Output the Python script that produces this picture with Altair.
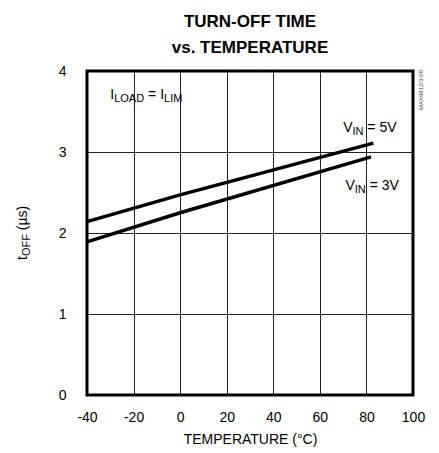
import altair as alt
import pandas as pd

# ---- data ----
temp_5v = [-40, 0, 83]
toff_5v = [2.14, 2.47, 3.11]
temp_3v = [-40, 0, 82]
toff_3v = [1.89, 2.25, 2.94]
x_ticks = [-40, -20, 0, 20, 40, 60, 80, 100]
y_ticks = [0, 1, 2, 3, 4]
title_lines = ["TURN-OFF TIME", "vs. TEMPERATURE"]
x_title = "TEMPERATURE (°C)"
watermark = "MAX9812/3-08"

df = pd.concat([
    pd.DataFrame({"temp": temp_5v, "toff": toff_5v, "series": "VIN = 5V"}),
    pd.DataFrame({"temp": temp_3v, "toff": toff_3v, "series": "VIN = 3V"}),
])

FONT = "Liberation Sans"
W, H = 326, 324
MAIN = 14
SUB = 11

xs = alt.Scale(domain=[-40, 100], nice=False, zero=False)
ys = alt.Scale(domain=[0, 4], nice=False)

lines = alt.Chart(df).mark_line(color="black", strokeWidth=3.5, strokeCap="butt").encode(
    x=alt.X("temp:Q", scale=xs, axis=alt.Axis(
        values=x_ticks, title=x_title, grid=True, gridColor="#222222", gridOpacity=1, gridWidth=1,
        domain=False, ticks=False, tickSize=0,
        labelPadding=26, labelBaseline="alphabetic", labelFontSize=MAIN, labelFont=FONT,
        labelColor="black", labelFlush=False, labelOverlap=False,
        labelExpr="'' + datum.value",
        titleFont=FONT, titleFontSize=MAIN, titleFontWeight="normal", titleColor="black",
        titleY=48, titleBaseline="alphabetic")),
    y=alt.Y("toff:Q", scale=ys, axis=alt.Axis(
        values=y_ticks, title=None, grid=True, gridColor="#222222", gridOpacity=1, gridWidth=1,
        domain=False, ticks=False, tickSize=0,
        labelPadding=21, labelFontSize=MAIN, labelFont=FONT, labelColor="black",
        labelFlush=False, labelOverlap=False, labelExpr="'' + datum.value")),
    detail="series:N",
)

one = pd.DataFrame({"a": [0]})

frame = alt.Chart(one).mark_rect(fill=None, stroke="black", strokeWidth=3).encode(
    x=alt.value(0), x2=alt.value(W), y=alt.value(0), y2=alt.value(H)
)


def piece_data(txt, xv, yv, size, dx=0, dy=0, angle=0, color="black"):
    d = pd.DataFrame({"x": [xv], "y": [yv]})
    return alt.Chart(d).mark_text(
        text=txt, font=FONT, fontSize=size, align="left", baseline="alphabetic",
        dx=dx, dy=dy, angle=angle, color=color,
    ).encode(x=alt.X("x:Q", scale=xs), y=alt.Y("y:Q", scale=ys))


def piece_px(txt, px, py, size, dx=0, dy=0, angle=0, color="black", align="left", weight="normal"):
    return alt.Chart(one).mark_text(
        text=txt, font=FONT, fontSize=size, align=align, baseline="alphabetic",
        dx=dx, dy=dy, angle=angle, color=color, fontWeight=weight,
    ).encode(x=alt.value(px), y=alt.value(py))


# annotation anchors (data coordinates)
ilim = (-30, 3.66)
v5 = (70, 3.25)
v3 = (71, 2.53)

labels = [
    piece_data("I", *ilim, MAIN),
    piece_data("LOAD", *ilim, SUB, dx=3.9, dy=3),
    piece_data("= I", *ilim, MAIN, dx=37.8),
    piece_data("LIM", *ilim, SUB, dx=53.8, dy=3),
    piece_data("V", *v5, MAIN),
    piece_data("IN", *v5, SUB, dx=9.3, dy=3),
    piece_data("= 5V", *v5, MAIN, dx=24.2),
    piece_data("V", *v3, MAIN),
    piece_data("IN", *v3, SUB, dx=9.3, dy=3),
    piece_data("= 3V", *v3, MAIN, dx=24.2),
    # y-axis title, rotated
    piece_px("t", -60, 189, MAIN, angle=270),
    piece_px("OFF", -60, 189, SUB, dx=3.9, dy=3, angle=270),
    piece_px("(µs)", -60, 189, MAIN, dx=29.8, angle=270),
    # watermark
    piece_px(watermark, 336, 39, 6, angle=270, color="#444444"),
    # chart title
    piece_px(title_lines[0], W / 2, -44, 17, align="center", weight="bold"),
    piece_px(title_lines[1], W / 2, -18, 17, align="center", weight="bold"),
]

chart = alt.layer(lines, frame, *labels).properties(
    width=W,
    height=H,
    background="white",
    padding={"left": 79, "top": 63, "right": 18, "bottom": 58},
    autosize=alt.AutoSizeParams(type="none"),
).configure_view(
    stroke=None,
)

chart.save("out.html", embed_options={"renderer": "svg", "actions": False})
